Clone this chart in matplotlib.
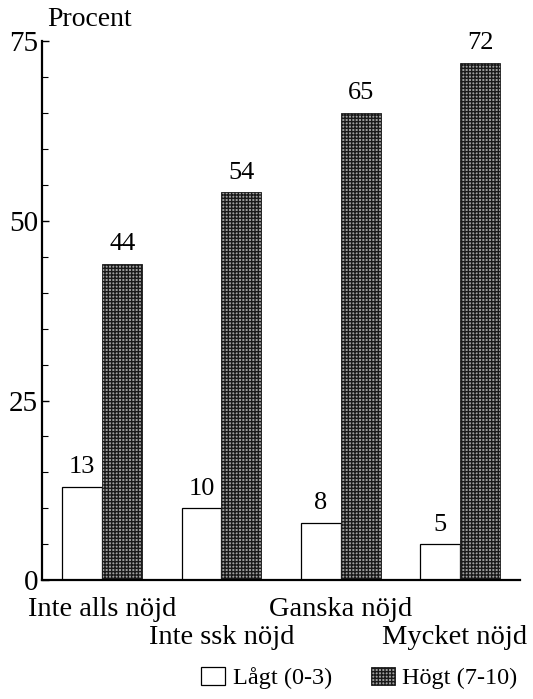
import matplotlib
matplotlib.use("Agg")
import matplotlib.pyplot as plt
from matplotlib.patches import Patch
from matplotlib.ticker import MultipleLocator

categories = ["Inte alls nöjd", "Inte ssk nöjd", "Ganska nöjd", "Mycket nöjd"]
low_values = [13, 10, 8, 5]      # Lågt (0-3)
high_values = [44, 54, 65, 72]   # Högt (7-10)
series_names = ["Lågt (0-3)", "Högt (7-10)"]
y_ticks = [0, 25, 50, 75]

plt.rcParams["font.family"] = ["Liberation Serif", "DejaVu Serif"]
plt.rcParams["hatch.linewidth"] = 1.0

HIGH_FACE = "#a0a0a0"
HIGH_EDGE = "#1a1a1a"

fig = plt.figure(figsize=(5.33, 6.99), dpi=100)
ax = fig.add_axes([0.079, 0.170, 0.897, 0.771])

x = list(range(len(categories)))
w = 0.335
ax.bar([i - w / 2 for i in x], low_values, width=w, color="white",
       edgecolor="black", linewidth=0.9)
ax.bar([i + w / 2 for i in x], high_values, width=w, color=HIGH_FACE,
       edgecolor=HIGH_EDGE, hatch="+++++", linewidth=0.6)

for i in x:
    ax.text(i - w / 2, low_values[i] + 1.2, str(low_values[i]),
            ha="center", va="bottom", fontsize=19)
    ax.text(i + w / 2, high_values[i] + 1.2, str(high_values[i]),
            ha="center", va="bottom", fontsize=19)

ax.set_xlim(-0.503, 3.503)
ax.set_ylim(0, 75)
ax.set_yticks(y_ticks)
ax.yaxis.set_minor_locator(MultipleLocator(5))
ax.tick_params(axis="y", which="major", direction="in", length=5,
               width=1, labelsize=21, pad=3)
ax.tick_params(axis="y", which="minor", direction="in", length=4, width=0.8)
ax.set_xticks([])
for s in ["top", "right"]:
    ax.spines[s].set_visible(False)
ax.spines["left"].set_linewidth(1.6)
ax.spines["bottom"].set_linewidth(1.6)

# staggered category labels
for i, c in enumerate(categories):
    y_off = -0.054 if i % 2 == 0 else -0.107
    ha = "center"
    xpos = i
    if i == len(categories) - 1:
        ha, xpos = "right", 3.56
    ax.text(xpos, y_off, c, transform=ax.get_xaxis_transform(),
            ha=ha, va="center", fontsize=20.5)

ax.text(-0.46, 76.3, "Procent", ha="left", va="bottom", fontsize=20)

handles = [Patch(facecolor="white", edgecolor="black", linewidth=0.9),
           Patch(facecolor=HIGH_FACE, edgecolor=HIGH_EDGE, hatch="+++++",
                 linewidth=0.6)]
fig.legend(handles, series_names, loc="center", bbox_to_anchor=(0.674, 0.030),
           ncol=2, frameon=False, fontsize=17.5, handlelength=1.0,
           handleheight=0.75, columnspacing=1.6, handletextpad=0.3,
           borderpad=0.1)

fig.savefig("out.png", dpi=100)
